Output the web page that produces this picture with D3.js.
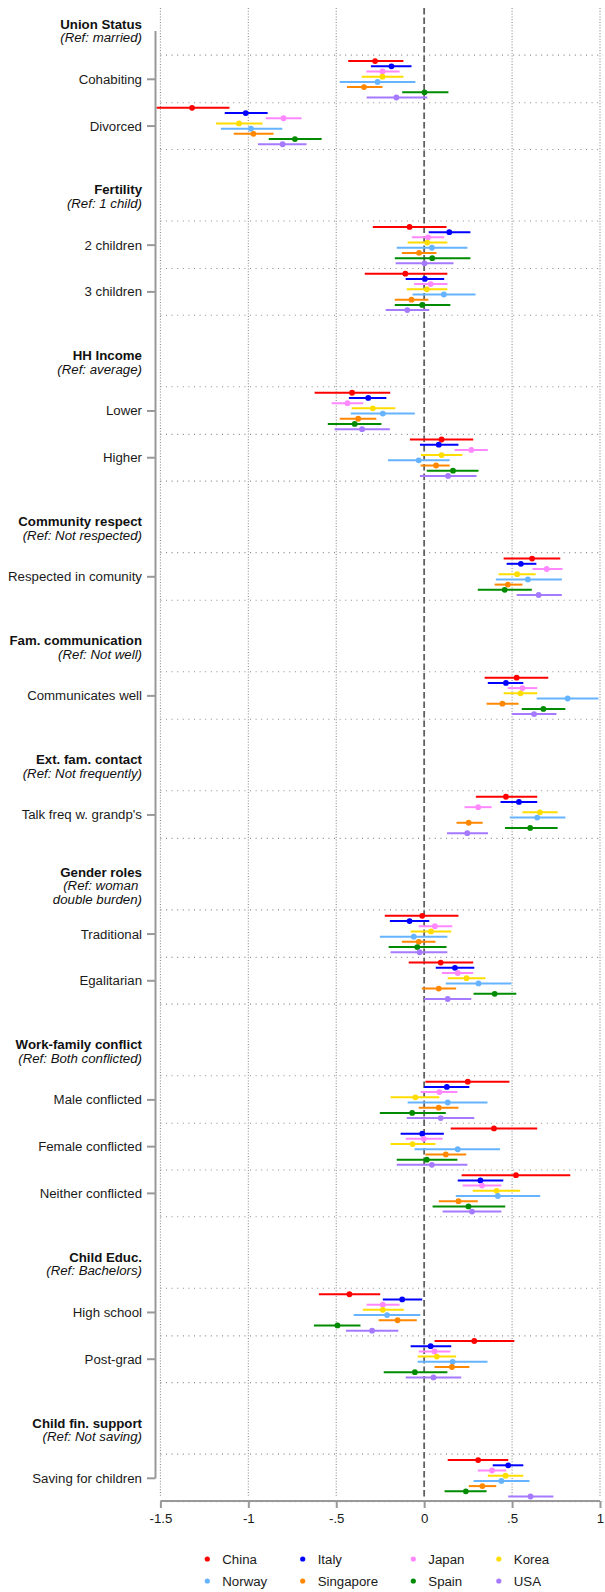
<!DOCTYPE html>
<html>
<head>
<meta charset="utf-8">
<script src="https://cdn.jsdelivr.net/npm/d3@7"></script>
<style>
  html, body { margin: 0; padding: 0; background: #fff; }
  svg { display: block; }
  text { font-family: "Liberation Sans", Arial, Helvetica, sans-serif; }
</style>
</head>
<body>
<svg id="chart" width="605" height="1592"></svg>
<script>
// Country series
const countries = ["China", "Italy", "Japan", "Korea", "Norway", "Singapore", "Spain", "USA"];

// Variable blocks: heading, reference category note, and the contrasts shown
const groupTitles = ["Union Status", "Fertility", "HH Income", "Community respect", "Fam. communication",
  "Ext. fam. contact", "Gender roles", "Work-family conflict", "Child Educ.", "Child fin. support"];
const groupRefs = [["(Ref: married)"], ["(Ref: 1 child)"], ["(Ref: average)"], ["(Ref: Not respected)"],
  ["(Ref: Not well)"], ["(Ref: Not frequently)"], ["(Ref: woman ", "double burden)"],
  ["(Ref: Both conflicted)"], ["(Ref: Bachelors)"], ["(Ref: Not saving)"]];
const groupItems = [["Cohabiting", "Divorced"], ["2 children", "3 children"], ["Lower", "Higher"],
  ["Respected in comunity"], ["Communicates well"], ["Talk freq w. grandp's"], ["Traditional", "Egalitarian"],
  ["Male conflicted", "Female conflicted", "Neither conflicted"], ["High school", "Post-grad"],
  ["Saving for children"]];

// Coefficients, one row per contrast (in order), one value per country
const pointEst = [
  [-0.279, -0.186, -0.237, -0.237, -0.265, -0.342, 0.002, -0.158],
  [-1.320, -1.015, -0.800, -1.053, -0.985, -0.971, -0.735, -0.805],
  [-0.083, 0.143, 0.022, 0.018, 0.044, -0.029, 0.046, 0.002],
  [-0.107, 0.004, 0.037, 0.015, 0.112, -0.072, -0.011, -0.096],
  [-0.410, -0.318, -0.436, -0.292, -0.235, -0.375, -0.395, -0.353],
  [0.099, 0.083, 0.268, 0.099, -0.031, 0.068, 0.164, 0.136],
  [0.614, 0.550, 0.697, 0.529, 0.590, 0.476, 0.458, 0.651],
  [0.526, 0.465, 0.559, 0.548, 0.816, 0.445, 0.678, 0.625],
  [0.465, 0.539, 0.307, 0.658, 0.643, 0.253, 0.603, 0.245],
  [-0.011, -0.083, 0.061, 0.039, -0.059, -0.031, -0.039, -0.026],
  [0.094, 0.175, 0.191, 0.241, 0.309, 0.083, 0.401, 0.134],
  [0.248, 0.129, 0.086, -0.050, 0.134, 0.083, -0.068, 0.094],
  [0.397, -0.011, -0.002, -0.066, 0.191, 0.123, 0.015, 0.044],
  [0.522, 0.320, 0.329, 0.412, 0.419, 0.195, 0.252, 0.272],
  [-0.425, -0.125, -0.235, -0.235, -0.211, -0.151, -0.493, -0.296],
  [0.285, 0.037, 0.059, 0.072, 0.162, 0.158, -0.053, 0.053],
  [0.307, 0.478, 0.386, 0.463, 0.439, 0.331, 0.237, 0.605]
];
const lowerCI = [
  [-0.432, -0.303, -0.329, -0.355, -0.480, -0.439, -0.125, -0.327],
  [-1.522, -1.134, -0.901, -1.184, -1.156, -1.083, -0.884, -0.945],
  [-0.292, 0.026, -0.070, -0.094, -0.156, -0.127, -0.167, -0.162],
  [-0.338, -0.105, -0.057, -0.099, -0.066, -0.167, -0.167, -0.219],
  [-0.623, -0.428, -0.526, -0.412, -0.417, -0.480, -0.548, -0.509],
  [-0.081, -0.024, 0.173, -0.018, -0.206, -0.020, 0.015, -0.024],
  [0.452, 0.469, 0.616, 0.423, 0.408, 0.401, 0.305, 0.526],
  [0.344, 0.362, 0.476, 0.452, 0.640, 0.355, 0.555, 0.498],
  [0.294, 0.434, 0.230, 0.559, 0.487, 0.184, 0.460, 0.130],
  [-0.224, -0.195, -0.031, -0.077, -0.252, -0.127, -0.202, -0.191],
  [-0.088, 0.066, 0.101, 0.134, 0.123, -0.013, 0.281, 0.000],
  [0.007, 0.000, -0.020, -0.191, -0.094, -0.031, -0.252, -0.099],
  [0.151, -0.134, -0.105, -0.191, -0.055, 0.007, -0.156, -0.156],
  [0.213, 0.191, 0.219, 0.276, 0.180, 0.083, 0.048, 0.105],
  [-0.599, -0.235, -0.327, -0.349, -0.401, -0.259, -0.627, -0.445],
  [0.059, -0.077, -0.031, -0.037, -0.037, 0.059, -0.230, -0.105],
  [0.134, 0.390, 0.305, 0.362, 0.281, 0.254, 0.116, 0.478]
];
const upperCI = [
  [-0.118, -0.072, -0.140, -0.118, -0.050, -0.237, 0.138, 0.018],
  [-1.107, -0.890, -0.697, -0.919, -0.807, -0.857, -0.583, -0.669],
  [0.127, 0.263, 0.114, 0.132, 0.246, 0.070, 0.263, 0.167],
  [0.132, 0.114, 0.132, 0.132, 0.292, 0.024, 0.149, 0.029],
  [-0.193, -0.215, -0.346, -0.164, -0.053, -0.272, -0.243, -0.195],
  [0.279, 0.195, 0.362, 0.217, 0.145, 0.145, 0.309, 0.298],
  [0.774, 0.638, 0.787, 0.634, 0.783, 0.559, 0.612, 0.783],
  [0.706, 0.564, 0.643, 0.643, 0.991, 0.537, 0.803, 0.752],
  [0.643, 0.643, 0.384, 0.759, 0.803, 0.333, 0.759, 0.363],
  [0.195, 0.029, 0.160, 0.154, 0.132, 0.064, 0.127, 0.132],
  [0.279, 0.285, 0.279, 0.349, 0.496, 0.182, 0.524, 0.268],
  [0.485, 0.257, 0.189, 0.086, 0.360, 0.195, 0.123, 0.285],
  [0.643, 0.112, 0.105, 0.064, 0.432, 0.239, 0.189, 0.246],
  [0.831, 0.450, 0.439, 0.546, 0.660, 0.305, 0.461, 0.439],
  [-0.250, -0.011, -0.140, -0.116, -0.022, -0.042, -0.362, -0.147],
  [0.513, 0.154, 0.149, 0.182, 0.360, 0.257, 0.132, 0.211],
  [0.478, 0.564, 0.467, 0.564, 0.599, 0.410, 0.355, 0.735]
];

// x-axis ticks
const xTicks = [-1.5, -1, -0.5, 0, 0.5, 1];
const xTickLabels = ["-1.5", "-1", "-.5", "0", ".5", "1"];

// Series colours
const palette = ["#ff0000", "#0000ff", "#ff88ff", "#ffdd00", "#66b3ff", "#ff8800", "#008b00", "#a57aff"];

// ---- layout ----
const svg = d3.select("#chart");
const FONT = 13.25;
const labelRight = 142;
const axisX = 155.5;

const x = d3.scaleLinear().domain([-1.5, 1]).range([160.4, 600]);

// Row slots: one unit per contrast, a wider gap between variable blocks
const BLOCK_GAP = 2.547;
const HEAD_OFFSET = 1.035;
const rows = [];
const heads = [];
let u = 0, r = 0;
groupItems.forEach((items, gi) => {
  if (gi > 0) u += BLOCK_GAP;
  heads.push({ gi, u: u - HEAD_OFFSET, first: u, last: u + items.length - 1 });
  items.forEach((label, k) => {
    rows.push({ label, u: u + k, idx: r++, gi });
  });
  u += items.length - 1;
});
const y = d3.scaleLinear().domain([0, u]).range([79.3, 1478.3]);
const step = y(1) - y(0);

const plotTop = 8, plotBottom = 1496.5;

// Vertical grid
const gGrid = svg.append("g");
gGrid.selectAll("line.vg").data(xTicks.filter(t => t !== 0)).join("line")
  .attr("x1", d => x(d)).attr("x2", d => x(d))
  .attr("y1", plotTop).attr("y2", plotBottom)
  .attr("stroke", "#8a8a8a").attr("stroke-width", 1.1).attr("stroke-dasharray", "1,1.8");

// Horizontal grid: cell borders around each contrast
const hLines = [];
heads.forEach(h => {
  hLines.push(y(h.first) - step / 2 - 0.8);
  for (let k = h.first; k < h.last; k++) hLines.push((y(k) + y(k + 1)) / 2);
  hLines.push(y(h.last) + step / 2);
});
gGrid.selectAll("line.hg").data(hLines).join("line")
  .attr("x1", x(-1.5)).attr("x2", 603)
  .attr("y1", d => d).attr("y2", d => d)
  .attr("stroke", "#8a8a8a").attr("stroke-width", 1.1).attr("stroke-dasharray", "1,4.6");

// Zero reference line
svg.append("line")
  .attr("x1", x(0)).attr("x2", x(0)).attr("y1", plotTop).attr("y2", plotBottom)
  .attr("stroke", "#606060").attr("stroke-width", 1.8).attr("stroke-dasharray", "6.5,3");

// Confidence intervals and point estimates
const offset = i => (i - 3.5) * 5.2;
const gMarks = svg.append("g");
rows.forEach(row => {
  const ry = y(row.u);
  const gRow = gMarks.append("g");
  gRow.selectAll("line").data(countries).join("line")
    .attr("x1", (c, i) => x(lowerCI[row.idx][i]))
    .attr("x2", (c, i) => x(upperCI[row.idx][i]))
    .attr("y1", (c, i) => ry + offset(i)).attr("y2", (c, i) => ry + offset(i))
    .attr("stroke", (c, i) => palette[i]).attr("stroke-width", 2);
  gRow.selectAll("circle").data(countries).join("circle")
    .attr("cx", (c, i) => x(pointEst[row.idx][i]))
    .attr("cy", (c, i) => ry + offset(i))
    .attr("r", 2.9)
    .attr("fill", (c, i) => palette[i]);
});

// y axis with contrast labels
svg.append("line")
  .attr("x1", axisX).attr("x2", axisX).attr("y1", y(heads[0].u)).attr("y2", y(rows[rows.length - 1].u))
  .attr("stroke", "#999").attr("stroke-width", 2);
svg.selectAll("line.ytick").data(rows).join("line")
  .attr("x1", axisX - 8.5).attr("x2", axisX)
  .attr("y1", d => y(d.u)).attr("y2", d => y(d.u))
  .attr("stroke", "#999").attr("stroke-width", 2);
svg.selectAll("text.ylab").data(rows).join("text")
  .attr("x", labelRight).attr("y", d => y(d.u))
  .attr("text-anchor", "end").attr("dominant-baseline", "central")
  .attr("font-size", FONT).attr("fill", "#1a1a1a")
  .text(d => d.label);

// Block headings
const LINE_H = 13.5;
heads.forEach(h => {
  const lines = [{ t: groupTitles[h.gi], bold: true }].concat(groupRefs[h.gi].map(t => ({ t, bold: false })));
  const cy = y(h.u);
  lines.forEach((ln, k) => {
    svg.append("text")
      .attr("x", labelRight)
      .attr("y", cy + (k - (lines.length - 1) / 2) * LINE_H)
      .attr("text-anchor", "end").attr("dominant-baseline", "central")
      .attr("font-size", FONT)
      .attr("font-weight", ln.bold ? "bold" : "normal")
      .attr("font-style", ln.bold ? "normal" : "italic")
      .style("white-space", "pre")
      .attr("fill", "#111")
      .text(ln.t);
  });
});

// x axis
const axisY = 1501;
const xAxis = d3.axisBottom(x).tickValues(xTicks).tickSize(7).tickPadding(6)
  .tickFormat((d, i) => xTickLabels[i]);
const gx = svg.append("g").attr("transform", `translate(0,${axisY})`).call(xAxis);
gx.select(".domain").attr("stroke", "#999").attr("stroke-width", 2)
  .attr("d", `M${x(-1.5)},0H${x(1)}`);
gx.selectAll(".tick line").attr("stroke", "#999").attr("stroke-width", 2);
gx.selectAll(".tick text").attr("font-size", FONT).attr("fill", "#1a1a1a")
  .attr("font-family", "\"Liberation Sans\", Arial, Helvetica, sans-serif");

// Legend: two rows of four
const legendCols = [207.3, 302.7, 413.3, 498.8];
const legendRows = [1559, 1581];
const gLeg = svg.append("g");
countries.forEach((c, i) => {
  const lx = legendCols[i % 4], ly = legendRows[Math.floor(i / 4)];
  gLeg.append("circle").attr("cx", lx).attr("cy", ly).attr("r", 2.6).attr("fill", palette[i]);
  gLeg.append("text").attr("x", lx + 15).attr("y", ly)
    .attr("dominant-baseline", "central").attr("font-size", FONT).attr("fill", "#1a1a1a")
    .text(c);
});
</script>
</body>
</html>
